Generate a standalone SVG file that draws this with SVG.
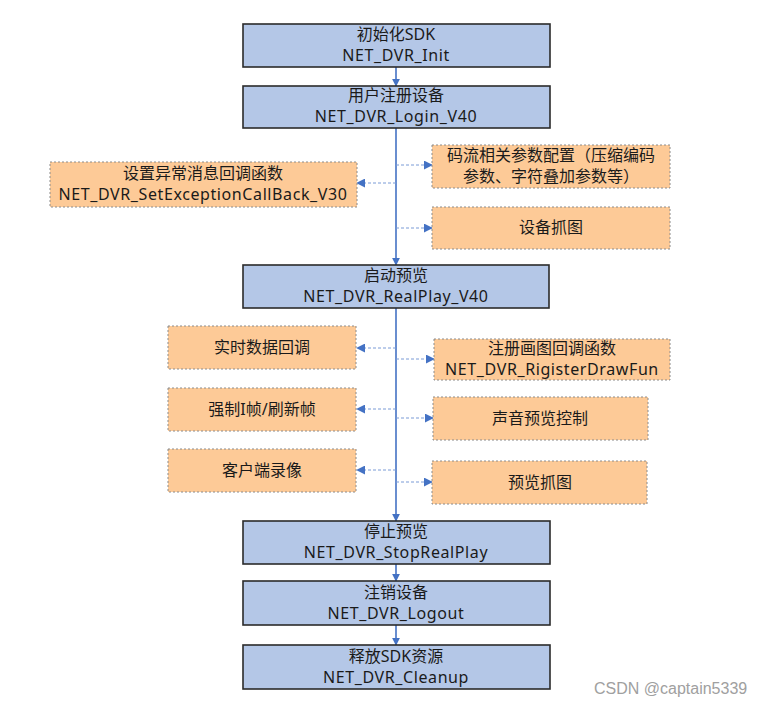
<svg xmlns="http://www.w3.org/2000/svg" width="766" height="705" viewBox="0 0 766 705">
<defs>
<marker id="ah" viewBox="0 0 10 10" refX="9" refY="5" markerWidth="8" markerHeight="8" markerUnits="userSpaceOnUse" orient="auto"><path d="M0,0 L10,5 L0,10 Z" fill="#4472c4"/></marker>
<marker id="ahs" viewBox="0 0 10 10" refX="9" refY="5" markerWidth="9" markerHeight="9" markerUnits="userSpaceOnUse" orient="auto"><path d="M0,0 L10,5 L0,10 Z" fill="#4472c4"/></marker>
</defs>
<style>
.main rect{fill:#b4c7e7;stroke:#2b2b2b;stroke-width:1.6}
.side rect{fill:#fdca97;stroke:#8c8c8c;stroke-width:1;stroke-dasharray:2 2}
text{font-family:"Noto Sans","Noto Sans CJK SC",sans-serif;font-size:16px;fill:#1a1a1a;text-anchor:middle}
.en{letter-spacing:0.6px}
.trunk{stroke:#4472c4;stroke-width:1.6;fill:none}
.branch{stroke:#7a9bd6;stroke-width:1;stroke-dasharray:3 2;fill:none}
.wm{font-family:"Liberation Sans",Arial,sans-serif;font-size:16px;fill:#a0a0a0;text-anchor:start}
</style>
<rect width="766" height="705" fill="#ffffff"/>
<g id="connectors">
<line class="trunk" x1="396" y1="67" x2="396" y2="86" marker-end="url(#ah)"/>
<line class="trunk" x1="396" y1="128" x2="396" y2="265" marker-end="url(#ah)"/>
<line class="trunk" x1="396" y1="308" x2="396" y2="521" marker-end="url(#ah)"/>
<line class="trunk" x1="396" y1="564" x2="396" y2="581" marker-end="url(#ah)"/>
<line class="trunk" x1="396" y1="625" x2="396" y2="645" marker-end="url(#ah)"/>
<line class="branch" x1="396" y1="165" x2="432" y2="165" marker-end="url(#ahs)"/>
<line class="branch" x1="396" y1="183" x2="357" y2="183" marker-end="url(#ahs)"/>
<line class="branch" x1="396" y1="228" x2="432" y2="228" marker-end="url(#ahs)"/>
<line class="branch" x1="396" y1="348" x2="357" y2="348" marker-end="url(#ahs)"/>
<line class="branch" x1="396" y1="359" x2="434" y2="359" marker-end="url(#ahs)"/>
<line class="branch" x1="396" y1="409" x2="357" y2="409" marker-end="url(#ahs)"/>
<line class="branch" x1="396" y1="418" x2="433" y2="418" marker-end="url(#ahs)"/>
<line class="branch" x1="396" y1="470" x2="357" y2="470" marker-end="url(#ahs)"/>
<line class="branch" x1="396" y1="482" x2="432" y2="482" marker-end="url(#ahs)"/>
</g>
<g id="init" class="main"><rect x="243" y="24" width="307" height="43"/><text x="396" y="40">初始化SDK</text><text class="en" x="396" y="61">NET_DVR_Init</text></g>
<g id="login" class="main"><rect x="243" y="86" width="307" height="42"/><text x="396" y="101">用户注册设备</text><text class="en" x="396" y="122">NET_DVR_Login_V40</text></g>
<g id="exception" class="side"><rect x="50" y="162" width="307" height="45"/><text x="203" y="179">设置异常消息回调函数</text><text class="en" x="203" y="200">NET_DVR_SetExceptionCallBack_V30</text></g>
<g id="stream" class="side"><rect x="432" y="145" width="238" height="43"/><text x="551" y="161">码流相关参数配置（压缩编码</text><text x="551" y="182">参数、字符叠加参数等）</text></g>
<g id="capture" class="side"><rect x="432" y="207" width="238" height="42"/><text x="551" y="233">设备抓图</text></g>
<g id="realplay" class="main"><rect x="243" y="265" width="306" height="43"/><text x="396" y="281">启动预览</text><text class="en" x="396" y="302">NET_DVR_RealPlay_V40</text></g>
<g id="realdata" class="side"><rect x="168" y="326" width="188" height="43"/><text x="262" y="353">实时数据回调</text></g>
<g id="drawfun" class="side"><rect x="434" y="339" width="236" height="41"/><text x="552" y="354">注册画图回调函数</text><text class="en" x="552" y="375">NET_DVR_RigisterDrawFun</text></g>
<g id="iframe" class="side"><rect x="168" y="388" width="188" height="43"/><text x="262" y="415">强制I帧/刷新帧</text></g>
<g id="voice" class="side"><rect x="433" y="397" width="215" height="43"/><text x="540" y="424">声音预览控制</text></g>
<g id="record" class="side"><rect x="168" y="449" width="188" height="43"/><text x="262" y="476">客户端录像</text></g>
<g id="snap" class="side"><rect x="432" y="461" width="215" height="43"/><text x="540" y="488">预览抓图</text></g>
<g id="stop" class="main"><rect x="243" y="521" width="307" height="43"/><text x="396" y="537">停止预览</text><text class="en" x="396" y="558">NET_DVR_StopRealPlay</text></g>
<g id="logout" class="main"><rect x="243" y="581" width="307" height="44"/><text x="396" y="598">注销设备</text><text class="en" x="396" y="619">NET_DVR_Logout</text></g>
<g id="cleanup" class="main"><rect x="243" y="645" width="307" height="44"/><text x="396" y="662">释放SDK资源</text><text class="en" x="396" y="683">NET_DVR_Cleanup</text></g>
<text class="wm" x="594" y="694">CSDN @captain5339</text>
</svg>
